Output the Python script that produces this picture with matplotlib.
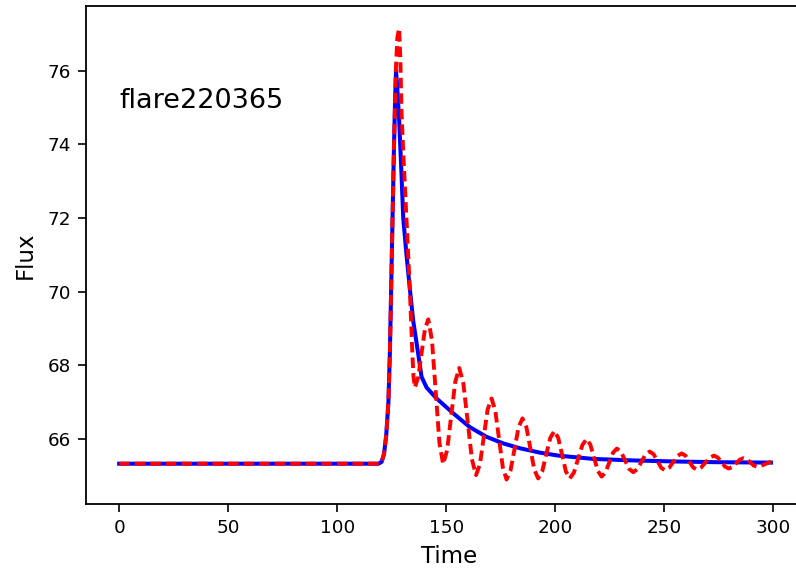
import matplotlib
matplotlib.use('Agg')
import matplotlib.pyplot as plt

# blue: flare profile
time_flare = [0, 119, 120.4, 121.5, 122.5, 123.5, 124.2, 125.1, 126.0, 126.6, 127.0,
              127.6, 128.4, 129.5, 130.3, 131.8, 133.3, 134.9, 137.2, 138.7, 141.0,
              145.6, 153.2, 160.9, 168.5, 176.2, 183.8, 193.0, 201.4, 217.4, 235.0,
              255.0, 275.0, 299.0]
flux_flare = [65.33, 65.33, 65.38, 65.6, 66.1, 67.0, 68.4, 71.1, 73.8, 75.3, 76.0,
              75.5, 74.7, 73.2, 72.0, 71.0, 70.1, 69.2, 68.3, 67.69, 67.4,
              67.1, 66.70, 66.32, 66.06, 65.88, 65.75, 65.63, 65.55, 65.46, 65.42,
              65.39, 65.37, 65.36]

# red dashed: flare with oscillation
time_osc = [0, 119, 120.4, 121.5, 122.5, 123.5, 124.2, 125.1, 126.0, 126.9, 127.6,
            128.4, 129.0, 129.5, 130.3, 131.8, 133.3, 134.5, 135.0, 135.6,
            137.15, 138.7, 140.25, 141.8,
            143.5, 145.2, 146.9, 148.6,
            150.45, 152.3, 154.15, 156.0,
            157.9, 159.85, 161.8, 163.7,
            165.5, 167.25, 169.0, 170.8,
            172.5, 174.25, 176.0, 177.7,
            179.5, 181.35, 183.2, 185.0,
            186.8, 188.6, 190.4, 192.2,
            194.05, 195.9, 197.75, 199.6,
            201.4, 203.15, 204.9, 206.7,
            208.6, 210.55, 212.5, 214.4,
            216.1, 217.85, 219.6, 221.3,
            223.05, 224.8, 226.55, 228.3,
            230.2, 232.05, 233.9, 235.8,
            237.7, 239.55, 241.4, 243.3,
            245.1, 246.85, 248.6, 250.4,
            252.3, 254.2, 256.1, 258.0,
            259.75, 261.5, 263.25, 265.0,
            266.95, 268.9, 270.85, 272.8,
            274.5, 276.2, 277.9, 279.6,
            281.3, 283.0, 284.7, 286.4,
            287.95, 289.5, 291.05, 292.6,
            294.2, 296.0, 297.5, 299.0]
flux_osc = [65.33, 65.33, 65.38, 65.6, 66.1, 67.0, 68.4, 71.1, 73.8, 76.0, 76.9,
            77.15, 76.3, 74.9, 73.8, 71.95, 70.1, 68.3, 67.7, 67.40,
            67.67, 68.33, 68.98, 69.25,
            68.67, 67.29, 65.90, 65.32,
            65.70, 66.63, 67.55, 67.93,
            67.50, 66.48, 65.45, 65.02,
            65.32, 66.06, 66.80, 67.10,
            66.78, 66.00, 65.22, 64.90,
            65.14, 65.73, 66.32, 66.56,
            66.32, 65.75, 65.17, 64.93,
            65.12, 65.58, 66.03, 66.22,
            66.03, 65.58, 65.12, 64.93,
            65.09, 65.47, 65.84, 66.00,
            65.85, 65.49, 65.13, 64.98,
            65.09, 65.36, 65.63, 65.74,
            65.65, 65.42, 65.19, 65.10,
            65.18, 65.38, 65.58, 65.66,
            65.59, 65.41, 65.22, 65.15,
            65.22, 65.38, 65.54, 65.61,
            65.55, 65.39, 65.23, 65.17,
            65.23, 65.36, 65.49, 65.55,
            65.50, 65.38, 65.25, 65.20,
            65.24, 65.34, 65.44, 65.48,
            65.45, 65.37, 65.28, 65.25,
            65.27, 65.31, 65.35, 65.38]

label = 'flare220365'

fig = plt.figure(figsize=(7.96, 5.69), dpi=100)
# the right edge of the frame falls just outside the picture, as in the original crop
ax = fig.add_axes([0.1078, 0.1142, 0.9123, 0.876])

ax.plot(time_flare, flux_flare, color='b', lw=2.9)
ax.plot(time_osc, flux_osc, color='r', lw=2.8, linestyle='--', dashes=(2.7, 1.3))

ax.text(0, 75, label, fontsize=19.5)

ax.set_xlim(-15.3, 317.8)
ax.set_ylim(64.235, 77.77)
ax.set_xticks([0, 50, 100, 150, 200, 250, 300])
ax.set_yticks([66, 68, 70, 72, 74, 76])
ax.tick_params(labelsize=13.2, length=5.5, width=1.2, pad=5.2)
for s in ax.spines.values():
    s.set_linewidth(1.3)

ax.set_xlabel('Time', fontsize=16.5, labelpad=6)
ax.set_ylabel('Flux', fontsize=16.5, labelpad=8)

fig.savefig('out.png', dpi=100)
